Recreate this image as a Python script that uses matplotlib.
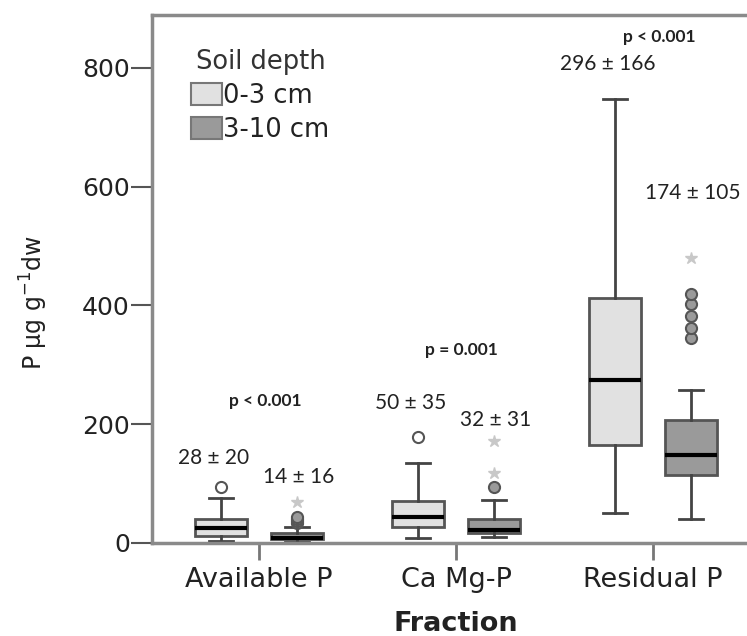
import matplotlib
matplotlib.use("Agg")
import matplotlib.pyplot as plt
import matplotlib.patches as patches

categories = ["Available P", "Ca Mg-P", "Residual P"]
depths = ["0-3 cm", "3-10 cm"]

# box statistics (P ug/g dw)
shallow_q1 = [12, 27, 165]
shallow_med = [26, 44, 275]
shallow_q3 = [40, 71, 412]
shallow_lo = [3, 8, 50]
shallow_hi = [76, 135, 747]
shallow_out = [[94], [178], []]
shallow_ext = [[], [], []]

deep_q1 = [6, 17, 115]
deep_med = [9, 22, 148]
deep_q3 = [17, 40, 207]
deep_lo = [2, 10, 40]
deep_hi = [27, 72, 258]
deep_out = [[33, 37, 41, 44], [94], [345, 362, 383, 402, 420]]
deep_ext = [[69], [118, 172], [480]]

shallow_labels = ["28 ± 20", "50 ± 35", "296 ± 166"]
deep_labels = ["14 ± 16", "32 ± 31", "174 ± 105"]
p_labels = ["p < 0.001", "p = 0.001", "p < 0.001"]

# label heights (layout only)
shallow_label_y = [143, 236, 806]
deep_label_y = [111, 207, 589]
p_label_y = [239, 325, 852]

light = "#e1e1e1"
dark = "#9a9a9a"
edge = "#555555"
axis_gray = "#8a8a8a"
offset = 0.193
width = 0.264

fig = plt.figure(figsize=(7.47, 6.36), dpi=100)
ax = fig.add_axes([152 / 747, 93 / 636, 595 / 747, 528 / 636])


def make_stats(q1, med, q3, lo, hi, out):
    stats = []
    for i in range(len(q1)):
        stats.append({"q1": q1[i], "med": med[i], "q3": q3[i],
                      "whislo": lo[i], "whishi": hi[i], "fliers": out[i]})
    return stats


groups = [
    (make_stats(shallow_q1, shallow_med, shallow_q3, shallow_lo, shallow_hi, shallow_out),
     shallow_ext, -offset, light, "white"),
    (make_stats(deep_q1, deep_med, deep_q3, deep_lo, deep_hi, deep_out),
     deep_ext, offset, dark, dark),
]

for stats, ext, off, fill, flier_fill in groups:
    pos = [i + off for i in range(len(categories))]
    ax.bxp(stats, positions=pos, widths=width, capwidths=0.12,
           patch_artist=True, showfliers=True,
           boxprops=dict(facecolor=fill, edgecolor=edge, linewidth=2),
           medianprops=dict(color="black", linewidth=3),
           whiskerprops=dict(color="#444444", linewidth=2),
           capprops=dict(color="#444444", linewidth=2),
           flierprops=dict(marker="o", markersize=8, markerfacecolor=flier_fill,
                           markeredgecolor=edge, markeredgewidth=1.5),
           zorder=2)
    for i, vals in enumerate(ext):
        if vals:
            ax.plot([pos[i]] * len(vals), vals, linestyle="none", marker="*",
                    markersize=9, color="#c8c8c8", zorder=3)

for i in range(len(categories)):
    ax.text(i - 0.23, shallow_label_y[i], shallow_labels[i], ha="center", va="center",
            fontsize=15, family="Lato", color="#222222")
    ax.text(i + 0.2, deep_label_y[i], deep_labels[i], ha="center", va="center",
            fontsize=15, family="Lato", color="#222222")
    ax.text(i + 0.03, p_label_y[i], p_labels[i], ha="center", va="center",
            fontsize=12.5, family="Lato", fontweight="bold", color="#222222")

ax.set_xlim(-0.543, 2.477)
ax.set_ylim(0, 889)
ax.set_xticks(range(len(categories)))
ax.set_xticklabels(categories)
ax.set_yticks([0, 200, 400, 600, 800])

for side in ["left", "top", "bottom"]:
    ax.spines[side].set_color(axis_gray)
    ax.spines[side].set_linewidth(2.5)
ax.spines["right"].set_visible(False)
ax.tick_params(axis="y", length=15, width=1.5, color="#555555", pad=1,
               labelsize=18, labelcolor="#222222")
ax.tick_params(axis="x", length=12, width=2, color="#777777", pad=5,
               labelsize=19.5, labelcolor="#222222")

ax.set_xlabel("Fraction", fontsize=19.5, fontweight="bold", color="#222222")
ax.set_ylabel("P µg g$^{-1}$dw", fontsize=17, color="#222222")
ax.xaxis.set_label_coords(0.51, -0.128)
ax.yaxis.set_label_coords(-0.172, 0.455)

handles = [patches.Patch(facecolor=light, edgecolor="#777777", linewidth=1.5),
           patches.Patch(facecolor=dark, edgecolor="#777777", linewidth=1.5)]
leg = ax.legend(handles, depths, title="Soil depth", loc="upper left",
                bbox_to_anchor=(0.066, 0.935), frameon=False, fontsize=18.5,
                title_fontsize=18.5, handlelength=1.2, handleheight=0.95,
                handletextpad=0.05, labelspacing=0.3, borderpad=0,
                borderaxespad=0)
for t in leg.get_texts():
    t.set_color("#222222")
leg.get_title().set_color("#333333")

fig.savefig("out.png", dpi=100)
